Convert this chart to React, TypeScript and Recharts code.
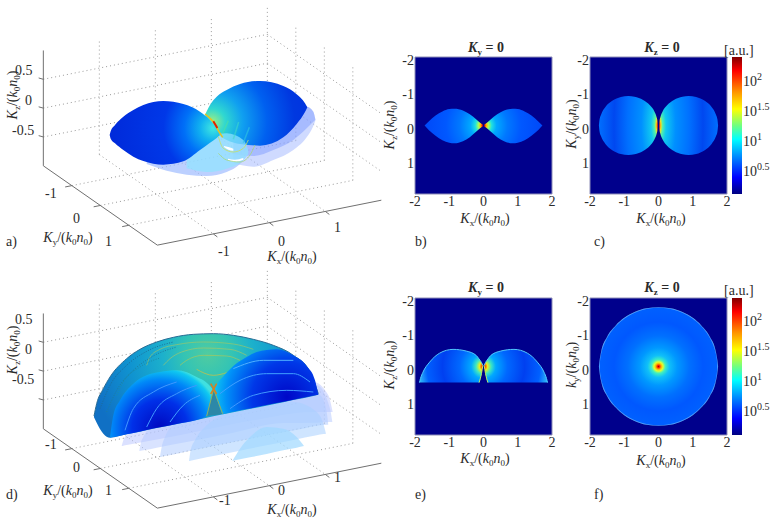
import { ComposedChart, Area, Line, XAxis, YAxis, ReferenceArea } from "recharts";

const SERIF = "'Liberation Serif', 'Times New Roman', serif";
const INK = "#2b2b2b";

// tick labels
const xTicks = [-2, -1, 0, 1, 2];
const yTicks = [-2, -1, 0, 1];
const cbTicks = [0.5, 1, 1.5, 2];
const tick3dXY = [-1, 0, 1];
const tick3dZ = [-0.5, 0, 0.5];

// background of every flat panel
const panelX = [-2, 2];
const panelLo = [-2, -2];
const panelHi = [2, 2];

// b) lobes at Ky = 0
const bLobeX = [0.02, 0.1, 0.2, 0.4, 0.6, 0.85, 1.0, 1.2, 1.4, 1.6, 1.72];
const bLobeTop = [-0.02, -0.08, -0.17, -0.33, -0.44, -0.49, -0.48, -0.41, -0.29, -0.12, 0];
const bLobeBot = [0.02, 0.08, 0.17, 0.34, 0.46, 0.52, 0.5, 0.43, 0.3, 0.13, 0];

// c) circles at Kz = 0
const cCircleX = [0.02, 0.03, 0.05, 0.12, 0.25, 0.45, 0.7, 0.88, 1.1, 1.35, 1.55, 1.68, 1.72, 1.74];
const cCircleTop = [0, -0.13, -0.225, -0.41, -0.59, -0.745, -0.84, -0.86, -0.83, -0.72, -0.54, -0.31, -0.18, 0];
const cCircleBot = [0, 0.13, 0.225, 0.41, 0.59, 0.745, 0.84, 0.86, 0.83, 0.72, 0.54, 0.31, 0.18, 0];

// e) half domes at Ky = 0
const eDomeX = [0.02, 0.04, 0.06, 0.13, 0.21, 0.5, 0.89, 1.28, 1.57, 1.77, 1.84, 1.87];
const eDomeTop = [-0.03, -0.08, -0.12, -0.22, -0.32, -0.45, -0.5, -0.39, -0.13, 0.17, 0.35, 0.47];
const eDomeBot = [-0.03, 0.08, 0.21, 0.47, 0.47, 0.47, 0.47, 0.47, 0.47, 0.47, 0.47, 0.47];
const eInnerX = [0.02, 0.06, 0.13];
const eInnerY = [-0.03, 0.21, 0.47];

// f) disc at Kz = 0
const fDiscX = [-1.74, -1.72, -1.68, -1.5, -1.25, -1, -0.7, -0.35, 0, 0.35, 0.7, 1, 1.25, 1.5, 1.68, 1.72, 1.74];
const fDiscTop = [0, -0.18, -0.41, -0.87, -1.2, -1.42, -1.59, -1.7, -1.73, -1.7, -1.59, -1.42, -1.2, -0.87, -0.41, -0.18, 0];
const fDiscBot = [0, 0.18, 0.41, 0.87, 1.2, 1.42, 1.59, 1.7, 1.73, 1.7, 1.59, 1.42, 1.2, 0.87, 0.41, 0.18, 0];

// a) 3d lobes, read off the view
const aLeftX = [329, 332, 345, 370, 400, 430, 490, 550, 600, 630, 650, 660];
const aLeftTop = [405, 394, 375, 350, 330, 315, 303, 312, 335, 360, 385, 405];
const aLeftBot = [405, 416, 430, 450, 470, 483, 494, 484, 450, 428, 414, 405];
const aRightX = [615, 630, 650, 680, 720, 780, 850, 890, 915, 922];
const aRightTop = [345, 315, 290, 270, 252, 243, 258, 283, 310, 322];
const aRightBot = [345, 372, 400, 420, 432, 437, 412, 372, 336, 322];
const aHazeLeftX = [440, 500, 560, 620, 680, 720, 745];
const aHazeLeftTop = [480, 470, 450, 420, 400, 420, 450];
const aHazeLeftBot = [492, 512, 524, 528, 516, 492, 462];
const aHazeCyanX = [560, 620, 680, 730, 745];
const aHazeCyanTop = [440, 410, 400, 420, 450];
const aHazeCyanBot = [505, 516, 506, 480, 462];
const aHazeRightX = [700, 760, 820, 880, 920, 940, 946];
const aHazeRightTop = [425, 430, 415, 370, 320, 335, 358];
const aHazeRightBot = [490, 500, 480, 450, 412, 378, 362];
const aHazeRight2Bot = [462, 468, 450, 420, 385, 365, 360];
const aGlintX = [672, 685, 700];
const aGlintTop = [438, 441, 446];
const aGlintBot = [441, 449, 452];
const aGlint2X = [684, 705, 730];
const aGlint2Top = [476, 479, 474];
const aGlint2Bot = [480, 485, 479];
const aRidgeHotX = [615, 630, 645, 655, 668];
const aRidgeHotY = [342, 355, 372, 392, 412];
const aRidge1X = [655, 670, 700, 730, 745];
const aRidge1Y = [410, 445, 456, 445, 420];
const aRidge2X = [655, 680, 720, 750, 765];
const aRidge2Y = [460, 480, 486, 465, 435];
const aStreak1X = [668, 685];
const aStreak1Y = [400, 362];
const aStreak2X = [700, 716];
const aStreak2Y = [418, 366];
const aStreak3X = [730, 748];
const aStreak3Y = [428, 382];

// d) dome behind the cut
const dBackX = [282, 290, 310, 330, 380, 420, 470, 520, 580, 640, 700, 760, 820, 880, 930, 955];
const dBackTop = [462, 425, 380, 345, 290, 262, 240, 226, 217, 215, 220, 232, 250, 280, 330, 395];
const dBackBot = [466, 482, 515, 527, 517, 509, 498, 488, 476, 463, 451, 439, 427, 414, 404, 398];
const dLeftX = [330, 340, 360, 400, 440, 480, 530, 590, 620, 630, 640];
const dLeftTop = [527, 460, 415, 365, 340, 330, 325, 345, 362, 372, 385];
const dLeftBot = [527, 525, 521, 513, 504, 496, 486, 474, 462, 425, 385];
const dRightX = [642, 655, 668, 700, 740, 770, 830, 880, 920, 945, 955];
const dRightTop = [385, 360, 345, 312, 285, 270, 262, 280, 312, 355, 398];
const dRightBot = [385, 425, 455, 449, 441, 435, 423, 413, 405, 400, 398];
const dNotchX = [620, 640, 668];
const dNotchTop = [462, 385, 455];
const dNotchBot = [462, 460, 455];

// d) translucent slices under the dome
const dSliceAX = [697, 720, 750, 800, 850, 890, 912];
const dSliceATop = [597, 560, 525, 495, 500, 525, 552];
const dSliceABot = [597, 592, 586, 576, 565, 557, 552];
const dSliceBX = [567, 572, 585, 620, 660, 720, 800, 880, 950, 970, 978];
const dSliceBTop = [597, 565, 535, 490, 462, 440, 425, 420, 450, 485, 515];
const dSliceBBot = [597, 596, 593, 586, 578, 566, 550, 534, 520, 516, 515];
const dSliceCX = [480, 485, 495, 530, 600, 700, 800, 900, 960, 980, 985];
const dSliceCTop = [585, 555, 525, 480, 440, 420, 400, 385, 400, 450, 490];
const dSliceCBot = [585, 584, 582, 575, 560, 540, 520, 502, 490, 488, 488];
const dSliceDX = [418, 422, 430, 470, 560, 700, 850, 950, 990, 997];
const dSliceDTop = [567, 545, 525, 480, 440, 420, 390, 370, 440, 480];
const dSliceDBot = [567, 566, 565, 557, 540, 512, 483, 482, 480, 480];
const dSliceEX = [365, 370, 380, 430, 560, 760, 940, 985, 998];
const dSliceETop = [552, 535, 520, 490, 440, 400, 360, 400, 450];
const dSliceEBot = [552, 551, 549, 540, 515, 475, 450, 450, 450];

// d) rings on the back dome
const dRing1X = [440, 450, 480, 530, 610, 700, 760];
const dRing1Y = [310, 285, 262, 248, 240, 246, 262];
const dRing2X = [490, 510, 545, 610, 690, 740];
const dRing2Y = [310, 290, 270, 258, 262, 280];
const dRing3X = [540, 560, 610, 680, 720];
const dRing3Y = [310, 295, 280, 282, 295];
const dRing4X = [590, 640, 680];
const dRing4Y = [322, 340, 332];
const dEdge1X = [300, 330, 380, 440, 520];
const dEdge1Y = [440, 370, 310, 268, 240];
const dEdge2X = [320, 350, 400, 460, 530];
const dEdge2Y = [450, 385, 325, 282, 255];
const dEdge3X = [350, 370, 420, 480];
const dEdge3Y = [400, 360, 315, 288];

// d) pale contours on the front faces
const dLeftArc1X = [375, 400, 460, 530];
const dLeftArc1Y = [505, 440, 390, 360];
const dLeftArc2X = [440, 470, 530, 590];
const dLeftArc2Y = [495, 440, 395, 370];
const dLeftArc3X = [510, 550, 600];
const dLeftArc3Y = [480, 430, 400];
const dRightArc1X = [660, 720, 800, 880, 930];
const dRightArc1Y = [395, 355, 335, 335, 360];
const dRightArc2X = [690, 760, 860, 940];
const dRightArc2Y = [440, 400, 385, 390];
const dRightArc3X = [700, 790, 880];
const dRightArc3Y = [320, 295, 295];
const dCrossAX = [632, 650];
const dCrossAY = [365, 396];
const dCrossBX = [632, 650];
const dCrossBY = [396, 365];
const dNotchEdgeLX = [620, 640];
const dNotchEdgeLY = [462, 385];
const dNotchEdgeRX = [642, 668];
const dNotchEdgeRY = [385, 455];

// colour stops, keyed by distance from the centre in Kx units
const bStops: [number, string][] = [[0, "#a00000"], [0.04, "#ff2000"], [0.09, "#ffc000"], [0.15, "#a0ff60"], [0.24, "#20e0e0"], [0.38, "#00a8ff"], [0.7, "#0078ff"], [1.1, "#0058ff"], [1.75, "#0048f8"]];
const cStops: [number, string][] = [[0, "#a00000"], [0.03, "#ff4000"], [0.07, "#f0e020"], [0.12, "#50f0b0"], [0.22, "#10c8f0"], [0.5, "#0090ff"], [0.9, "#0070ff"], [1.3, "#0048f0"], [1.75, "#0070ff"]];
const eStops: [number, string][] = [[0, "#a00000"], [0.06, "#ff6000"], [0.12, "#e8f020"], [0.22, "#40e8c0"], [0.36, "#00a8ff"], [0.7, "#0068ff"], [1.2, "#0040f0"], [1.65, "#0060ff"], [1.9, "#30b8f8"]];
const fStops: [number, string][] = [[0, "#a00000"], [0.035, "#ff2000"], [0.08, "#ffb000"], [0.13, "#e0ff30"], [0.2, "#40f0c0"], [0.32, "#10c0f8"], [0.55, "#0098ff"], [0.9, "#0070ff"], [1.3, "#0058ff"], [1.7, "#0060ff"], [1.74, "#70c0ff"]];
const jetStops: [number, string][] = [[0, "#800000"], [0.1, "#ff0000"], [0.25, "#ff9000"], [0.38, "#ffff00"], [0.5, "#70ff80"], [0.6, "#00ffff"], [0.72, "#0090ff"], [0.88, "#0000ff"], [1, "#000080"]];

const band = (xs: number[], lo: number[], hi: number[]) => xs.map((x, i) => ({ x, y: [lo[i], hi[i]] }));
const pts = (xs: number[], ys: number[]) => xs.map((x, i) => ({ x, y: ys[i] }));
const flip = (xs: number[]) => xs.map((x) => -x);
const project = (kx: number, ky: number, kz: number, dy: number) => ({
    x: 637 + 168 * kx + 85.5 * ky,
    y: 376 + dy - 33.7 * kx + 59.5 * ky - 173 * kz,
});

function Segment({ data, color = "#9a9a9a", width = 1, dash, opacity = 1 }: { data: { x: number; y: number }[]; color?: string; width?: number; dash?: string; opacity?: number }) {
    return <Line data={data} dataKey="y" type="monotone" dot={false} stroke={color} strokeWidth={width} strokeDasharray={dash} strokeOpacity={opacity} isAnimationActive={false} />;
}

function Fill({ data, fill, opacity = 1 }: { data: { x: number; y: number[] }[]; fill: string; opacity?: number }) {
    return <Area data={data} dataKey="y" type="monotone" stroke="none" fill={fill} fillOpacity={opacity} dot={false} activeDot={false} isAnimationActive={false} />;
}

function Sheet({ top, children }: { top: number; children: React.ReactNode }) {
    return (
        <div style={{ position: "absolute", left: 0, top }}>
            <ComposedChart width={390} height={260} margin={{ top: 0, right: 0, bottom: 0, left: 0 }}>
                <XAxis hide type="number" dataKey="x" domain={[0, 1170]} allowDataOverflow />
                <YAxis hide reversed type="number" domain={[0, 780]} allowDataOverflow />
                {children}
            </ComposedChart>
        </div>
    );
}

// dotted box walls and floor plus the three solid axes
function Box({ top, dy }: { top: number; dy: number }) {
    const segs: { x: number; y: number }[][] = [];
    tick3dZ.forEach((z) => {
        segs.push([project(-2, -2, z, dy), project(2, -2, z, dy)]);
        segs.push([project(2, -2, z, dy), project(2, 2, z, dy)]);
    });
    [...tick3dXY, 2].forEach((k) => segs.push([project(k, -2, -1, dy), project(k, -2, 1, dy)]));
    tick3dXY.forEach((k) => segs.push([project(2, k, -1, dy), project(2, k, 1, dy)]));
    tick3dXY.forEach((k) => {
        segs.push([project(k, -2, -1, dy), project(k, 2, -1, dy)]);
        segs.push([project(-2, k, -1, dy), project(2, k, -1, dy)]);
    });
    const corner = project(-2, -2, -1, dy);
    const front = project(-2, 2, -1, dy);
    const right = project(2, 2, -1, dy);
    const axes = [[corner, project(-2, -2, 1, dy)], [corner, front], [front, right]];
    tick3dZ.forEach((z) => {
        const p = project(-2, -2, z, dy);
        axes.push([{ x: p.x - 14, y: p.y - 4 }, p]);
    });
    tick3dXY.forEach((k) => {
        const p = project(-2, k, -1, dy);
        axes.push([{ x: p.x - 20, y: p.y + 4 }, p]);
        const q = project(k, 2, -1, dy);
        axes.push([{ x: q.x + 12, y: q.y + 9 }, q]);
    });
    return (
        <Sheet top={top}>
            {segs.map((s, i) => <Segment key={i} data={s} color="#9a9a9a" dash="1 3" />)}
            {axes.map((s, i) => <Segment key={"a" + i} data={s} color="#707070" />)}
        </Sheet>
    );
}

function Radial({ id, cx, cy, r, stops, transform }: { id: string; cx: number; cy: number; r: number; stops: [number, string][]; transform?: string }) {
    return (
        <radialGradient id={id} gradientUnits="userSpaceOnUse" cx={cx} cy={cy} r={r} gradientTransform={transform}>
            {stops.map(([o, c]) => <stop key={o} offset={o} stopColor={c} />)}
        </radialGradient>
    );
}

function PanelA() {
    return (
        <>
            <Box top={0} dy={0} />
            <Sheet top={0}>
                <defs>
                    <Radial id="aL" cx={213} cy={128} r={110} stops={[[0, "#40e8e0"], [0.12, "#10b0f0"], [0.26, "#0070f8"], [0.45, "#0038e8"], [1, "#0028d8"]]} />
                    <Radial id="aR" cx={212} cy={122} r={110} stops={[[0, "#a0f080"], [0.12, "#30d8d0"], [0.28, "#10a0f0"], [0.5, "#0060f0"], [0.75, "#0038e0"], [1, "#0030e0"]]} />
                </defs>
                <Fill data={band(aHazeRightX, aHazeRightTop, aHazeRightBot)} fill="#a8bcff" opacity={0.55} />
                <Fill data={band(aHazeRightX, aHazeRightTop, aHazeRight2Bot)} fill="#6c8cff" opacity={0.4} />
                <Fill data={band(aHazeLeftX, aHazeLeftTop, aHazeLeftBot)} fill="#a0bcff" opacity={0.7} />
                <Fill data={band(aRightX, aRightTop, aRightBot)} fill="url(#aR)" />
                <Fill data={band(aHazeCyanX, aHazeCyanTop, aHazeCyanBot)} fill="#90e4ff" opacity={0.7} />
                <Fill data={band(aLeftX, aLeftTop, aLeftBot)} fill="url(#aL)" />
                <Fill data={band(aGlintX, aGlintTop, aGlintBot)} fill="#ffffff" />
                <Fill data={band(aGlint2X, aGlint2Top, aGlint2Bot)} fill="#ffffff" />
                <Segment data={pts(aStreak1X, aStreak1Y)} color="#50e0a0" width={1.5} opacity={0.6} />
                <Segment data={pts(aStreak2X, aStreak2Y)} color="#40d8c8" width={1.5} opacity={0.6} />
                <Segment data={pts(aStreak3X, aStreak3Y)} color="#30c8e0" width={1.5} opacity={0.6} />
                <Segment data={pts(aRidge1X, aRidge1Y)} color="#c8e060" opacity={0.8} />
                <Segment data={pts(aRidge2X, aRidge2Y)} color="#a8d880" opacity={0.8} />
                <Segment data={pts(aRidgeHotX, aRidgeHotY)} color="#e8c020" width={1.5} />
                <Segment data={[{ x: 640, y: 364 }, { x: 652, y: 384 }]} color="#e02000" width={2} />
            </Sheet>
        </>
    );
}

function PanelD() {
    return (
        <>
            <Box top={262} dy={3} />
            <Sheet top={262}>
                <defs>
                    <Radial id="dB" cx={208} cy={92} r={120} stops={[[0, "#50cca0"], [0.2, "#34c4b4"], [0.38, "#1cb0cc"], [0.65, "#1094d0"], [1, "#1070c4"]]} />
                </defs>
                <Fill data={band(dSliceEX, dSliceETop, dSliceEBot)} fill="#b8c4ff" opacity={0.5} />
                <Fill data={band(dSliceDX, dSliceDTop, dSliceDBot)} fill="#b4c8ff" opacity={0.5} />
                <Fill data={band(dSliceCX, dSliceCTop, dSliceCBot)} fill="#b0ccff" opacity={0.55} />
                <Fill data={band(dSliceBX, dSliceBTop, dSliceBBot)} fill="#a8d0ff" opacity={0.55} />
                <Fill data={band(dSliceAX, dSliceATop, dSliceABot)} fill="#a0d8ff" opacity={0.7} />
                <Fill data={band(dBackX, dBackTop, dBackBot)} fill="url(#dB)" />
                <Segment data={pts(dRing1X, dRing1Y)} color="#a8c860" opacity={0.6} />
                <Segment data={pts(dRing2X, dRing2Y)} color="#b0c860" opacity={0.6} />
                <Segment data={pts(dRing3X, dRing3Y)} color="#b8c850" opacity={0.6} />
                <Segment data={pts(dRing4X, dRing4Y)} color="#d0c040" opacity={0.7} />
                <Segment data={pts(dEdge1X, dEdge1Y)} color="#1c6c98" dash="1 1.5" />
                <Segment data={pts(dEdge2X, dEdge2Y)} color="#1c7ca0" dash="1 1.5" />
                <Segment data={pts(dEdge3X, dEdge3Y)} color="#1c8ca8" dash="1 1.5" />
                <Segment data={pts(dBackX, dBackTop)} color="#2a6c94" />
            </Sheet>
            <Sheet top={262}>
                <defs>
                    <Radial id="dL" cx={160} cy={166} r={62} stops={[[0, "#0008c0"], [0.45, "#0030e8"], [0.78, "#0088f8"], [0.95, "#10c8f0"], [1, "#40e0e0"]]} />
                    <Radial id="dR" cx={287} cy={135} r={78} stops={[[0, "#0008c8"], [0.45, "#0038e8"], [0.78, "#0090f8"], [0.95, "#10c8f0"], [1, "#40e0e0"]]} />
                </defs>
                <Fill data={band(dNotchX, dNotchTop, dNotchBot)} fill="#2c88a8" />
                <Fill data={band(dLeftX, dLeftTop, dLeftBot)} fill="url(#dL)" />
                <Fill data={band(dRightX, dRightTop, dRightBot)} fill="url(#dR)" />
                <Segment data={pts(dLeftArc1X, dLeftArc1Y)} color="#4098ff" />
                <Segment data={pts(dLeftArc2X, dLeftArc2Y)} color="#4098ff" />
                <Segment data={pts(dLeftArc3X, dLeftArc3Y)} color="#40a0ff" />
                <Segment data={pts(dRightArc1X, dRightArc1Y)} color="#40a0ff" />
                <Segment data={pts(dRightArc2X, dRightArc2Y)} color="#4098ff" />
                <Segment data={pts(dRightArc3X, dRightArc3Y)} color="#50b0ff" />
                <Segment data={pts(dNotchEdgeLX, dNotchEdgeLY)} color="#90b060" />
                <Segment data={pts(dNotchEdgeRX, dNotchEdgeRY)} color="#90b060" />
                <Segment data={pts(dCrossAX, dCrossAY)} color="#d88020" width={1.5} />
                <Segment data={pts(dCrossBX, dCrossBY)} color="#d88020" width={1.5} />
            </Sheet>
        </>
    );
}

const PAD_L = 22;
const PAD_T = 8;
const PLOT = 137;

function Flat({ id, left, top, stops, stretch = 1, children }: { id: string; left: number; top: number; stops: [number, string][]; stretch?: number; children: React.ReactNode }) {
    const cy = PAD_T + PLOT / 2;
    return (
        <div style={{ position: "absolute", left: left - PAD_L, top: top - PAD_T }}>
            <ComposedChart width={PAD_L + PLOT + 10} height={PAD_T + PLOT + 24} margin={{ top: PAD_T, right: 10, bottom: 0, left: 0 }}>
                <defs>
                    <Radial id={id} cx={PAD_L + PLOT / 2} cy={cy} r={PLOT / 2} stops={stops.map(([r, c]) => [r / 2, c] as [number, string])}
                        transform={`translate(0 ${cy}) scale(1 ${stretch}) translate(0 ${-cy})`} />
                </defs>
                <XAxis type="number" dataKey="x" domain={[-2, 2]} ticks={xTicks} interval={0} height={24} axisLine={false} tickLine={false} allowDataOverflow
                    tick={(p: any) => <text x={p.x} y={PAD_T + PLOT + 12} textAnchor="middle" fontFamily={SERIF} fontSize={14} fill={INK}>{p.payload.value}</text>} />
                <YAxis type="number" reversed domain={[-2, 2]} ticks={yTicks} interval={0} width={PAD_L} axisLine={false} tickLine={false} allowDataOverflow
                    tick={(p: any) => <text x={PAD_L - 1} y={p.y + 8} textAnchor="end" fontFamily={SERIF} fontSize={14} fill={INK}>{p.payload.value}</text>} />
                <Fill data={band(panelX, panelLo, panelHi)} fill="#00008c" />
                {children}
                <ReferenceArea x1={-2} x2={2} y1={-2} y2={2} fill="none" stroke="#8e8eb8" strokeWidth={1} ifOverflow="visible" />
            </ComposedChart>
        </div>
    );
}

function Colorbar({ id, top, shift }: { id: string; top: number; shift: number }) {
    return (
        <div style={{ position: "absolute", left: 732, top: top - 8 }}>
            <ComposedChart width={46} height={PLOT + 16} margin={{ top: 8, right: 0, bottom: 8, left: 0 }}>
                <defs>
                    <linearGradient id={id} x1="0" y1="0" x2="0" y2="1">
                        {jetStops.map(([o, c]) => <stop key={o} offset={o} stopColor={c} />)}
                    </linearGradient>
                </defs>
                <XAxis hide type="number" dataKey="x" domain={[0, 1]} />
                <YAxis orientation="right" type="number" domain={[0.08, 2.37]} ticks={cbTicks} interval={0} width={36} axisLine={false} tickLine={false} allowDataOverflow
                    tick={(p: any) => (
                        <text x={11} y={p.y + shift} fontFamily={SERIF} fontSize={14} fill={INK}>
                            10<tspan fontSize={10} dy={-6}>{p.payload.value}</tspan>
                        </text>
                    )} />
                <Fill data={band([0, 1], [0.08, 0.08], [2.37, 2.37])} fill={`url(#${id})`} />
            </ComposedChart>
        </div>
    );
}

function Ratio({ x, y, a, sub, rotate }: { x: number; y: number; a: string; sub: string; rotate?: boolean }) {
    return (
        <text x={x} y={y} textAnchor="middle" fontFamily={SERIF} fontSize={14} fill={INK} transform={rotate ? `rotate(-90 ${x} ${y})` : undefined}>
            <tspan fontStyle="italic">{a}</tspan>
            <tspan fontSize={9} dy={3}>{sub}</tspan>
            <tspan dy={-3}>/(</tspan>
            <tspan fontStyle="italic">k</tspan>
            <tspan fontSize={9} dy={3}>0</tspan>
            <tspan fontStyle="italic" dy={-3}>n</tspan>
            <tspan fontSize={9} dy={3}>0</tspan>
            <tspan dy={-3}>)</tspan>
        </text>
    );
}

function Title({ x, y, sub }: { x: number; y: number; sub: string }) {
    return (
        <text x={x} y={y} textAnchor="middle" fontFamily={SERIF} fontSize={14} fontWeight="bold" fill={INK}>
            <tspan fontStyle="italic">K</tspan>
            <tspan fontSize={9} dy={3}>{sub}</tspan>
            <tspan dy={-3}> = 0</tspan>
        </text>
    );
}

// labels that sit outside the plot frames: [text, x, y]
const plainLabels: [string, number, number][] = [
    ["a)", 6, 246], ["d)", 6, 499], ["b)", 415, 246], ["c)", 594, 246], ["e)", 415, 499], ["f)", 594, 499],
    ["[a.u.]", 724, 55], ["[a.u.]", 724, 295],
    ["0.5", 15, 75], ["0", 25, 105], ["-0.5", 12, 135],
    ["-1", 45, 198], ["0", 73, 223], ["1", 105, 246],
    ["-1", 218, 256], ["0", 278, 246], ["1", 334, 232],
    ["0.5", 15, 324], ["0", 25, 354], ["-0.5", 12, 384],
    ["-1", 45, 449], ["0", 73, 472], ["1", 105, 495],
    ["-1", 219, 505], ["0", 278, 495], ["1", 334, 482],
];

export default function App() {
    return (
        <div style={{ position: "absolute", left: 0, top: 0, width: 778, height: 522, background: "#fff", overflow: "hidden" }}>
            <PanelA />
            <PanelD />

            <Flat id="gb" left={414.5} top={57} stops={bStops}>
                <Fill data={band(bLobeX, bLobeTop, bLobeBot)} fill="url(#gb)" />
                <Fill data={band(flip(bLobeX).reverse(), [...bLobeTop].reverse(), [...bLobeBot].reverse())} fill="url(#gb)" />
            </Flat>
            <Flat id="gc" left={590} top={57} stops={cStops} stretch={3}>
                <Fill data={band(cCircleX, cCircleTop, cCircleBot)} fill="url(#gc)" />
                <Fill data={band(flip(cCircleX).reverse(), [...cCircleTop].reverse(), [...cCircleBot].reverse())} fill="url(#gc)" />
            </Flat>
            <Flat id="ge" left={414.5} top={297.5} stops={eStops}>
                <Fill data={band(eDomeX, eDomeTop, eDomeBot)} fill="url(#ge)" />
                <Fill data={band(flip(eDomeX).reverse(), [...eDomeTop].reverse(), [...eDomeBot].reverse())} fill="url(#ge)" />
                <Segment data={pts(eDomeX, eDomeTop)} color="#50c8ff" />
                <Segment data={pts(flip(eDomeX).reverse(), [...eDomeTop].reverse())} color="#50c8ff" />
                <Segment data={pts(eInnerX, eInnerY)} color="#c0f060" />
                <Segment data={pts(flip(eInnerX).reverse(), [...eInnerY].reverse())} color="#c0f060" />
            </Flat>
            <Flat id="gf" left={590} top={297.5} stops={fStops}>
                <Fill data={band(fDiscX, fDiscTop, fDiscBot)} fill="url(#gf)" />
            </Flat>

            <Colorbar id="cb1" top={57} shift={7} />
            <Colorbar id="cb2" top={297.5} shift={6} />

            <svg width={778} height={522} style={{ position: "absolute", left: 0, top: 0, pointerEvents: "none" }}>
                {plainLabels.map(([t, x, y], i) => (
                    <text key={i} x={x} y={y} fontFamily={SERIF} fontSize={14} fill={INK}>{t}</text>
                ))}
                <Title x={486} y={52} sub="y" />
                <Title x={662} y={52} sub="z" />
                <Title x={486} y={292} sub="y" />
                <Title x={662} y={292} sub="z" />
                <Ratio x={485} y={223} a="K" sub="x" />
                <Ratio x={661} y={223} a="K" sub="x" />
                <Ratio x={485} y={463} a="K" sub="x" />
                <Ratio x={661} y={465} a="K" sub="x" />
                <Ratio x={394} y={125} a="K" sub="z" rotate />
                <Ratio x={576} y={124} a="K" sub="y" rotate />
                <Ratio x={394} y={365} a="K" sub="z" rotate />
                <Ratio x={576} y={365} a="k" sub="y" rotate />
                <Ratio x={68} y={242} a="K" sub="y" />
                <Ratio x={292} y={261} a="K" sub="x" />
                <Ratio x={68} y={495} a="K" sub="y" />
                <Ratio x={292} y={514} a="K" sub="x" />
                <Ratio x={17} y={95} a="K" sub="z" rotate />
                <Ratio x={17} y={350} a="K" sub="z" rotate />
            </svg>
        </div>
    );
}
